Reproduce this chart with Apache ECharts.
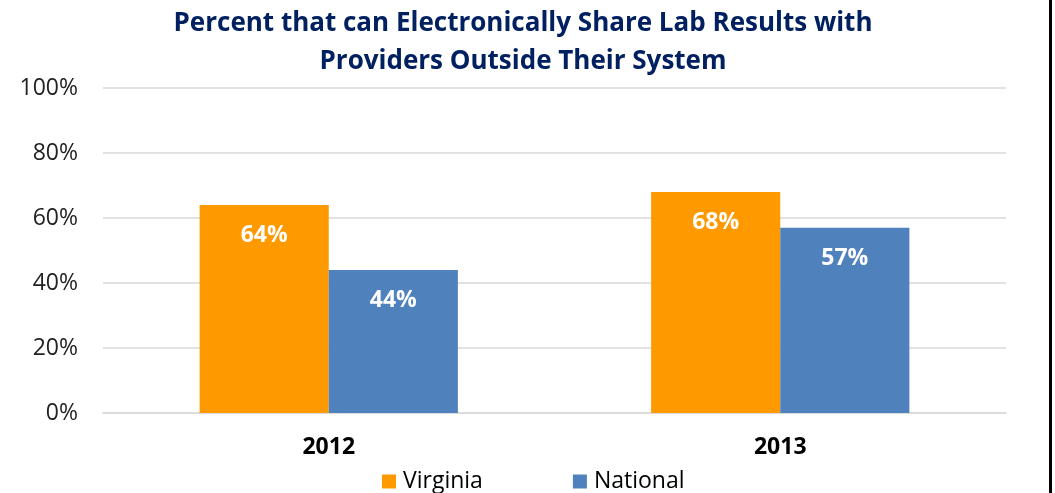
<!DOCTYPE html>
<html><head><meta charset="utf-8">
<script src="https://cdn.jsdelivr.net/npm/echarts@6/dist/echarts.min.js"></script>
<style>html,body{margin:0;padding:0;background:#fff}#c{width:1055px;height:493px}</style>
</head><body><div id="c"></div>
<script>
const categories = ['2012', '2013'];
const virginia = [64, 68];
const national = [44, 57];
const yTicks = [0, 20, 40, 60, 80, 100];
const titleText = 'Percent that can Electronically Share Lab Results with\nProviders Outside Their System';

const chart = echarts.init(document.getElementById('c'), null, {renderer: 'canvas'});
const labelStyle = {
  show: true, position: 'insideTop', distance: 19,
  formatter: p => p.value + '%', color: '#fff', fontWeight: 'bold',
  fontSize: 23, fontFamily: 'Open Sans'
};
chart.setOption({
  animation: false,
  backgroundColor: '#fff',
  title: {
    text: titleText, left: 518, top: 0, textAlign: 'center',
    textStyle: {color: '#002060', fontSize: 26, fontWeight: 'bold', fontFamily: 'Open Sans', lineHeight: 38}
  },
  grid: {left: 103, right: 49, top: 88, bottom: 80, containLabel: false},
  legend: {
    left: 377, top: 465, itemWidth: 14, itemHeight: 14, itemGap: 90,
    icon: 'rect',
    textStyle: {fontSize: 23, color: '#000', fontFamily: 'Open Sans', padding: [0,0,0,2]},
    data: ['Virginia', 'National']
  },
  xAxis: {
    type: 'category', data: categories,
    axisLine: {lineStyle: {color: '#d9d9d9', width: 1.5}},
    axisTick: {show: false},
    axisLabel: {margin: 23, fontSize: 23, fontWeight: 'bold', color: '#000', fontFamily: 'Open Sans'}
  },
  yAxis: {
    type: 'value', min: 0, max: 100, interval: 20,
    axisLine: {show: false}, axisTick: {show: false},
    splitLine: {lineStyle: {color: '#d9d9d9', width: 1.5}},
    axisLabel: {margin: 25, fontSize: 23, color: '#222', fontFamily: 'Open Sans',
      formatter: v => yTicks.includes(v) ? v + '%' : ''}
  },
  series: [
    {name: 'Virginia', type: 'bar', data: virginia, barWidth: '28.6%', barGap: '0%',
     itemStyle: {color: '#FF9900'}, label: labelStyle},
    {name: 'National', type: 'bar', data: national, barWidth: '28.6%', barGap: '0%',
     itemStyle: {color: '#4F81BD'}, label: labelStyle}
  ],
  graphic: [{type: 'rect', shape: {x: 1049, y: 0, width: 3, height: 493}, style: {fill: '#000'}}]
});
</script></body></html>
